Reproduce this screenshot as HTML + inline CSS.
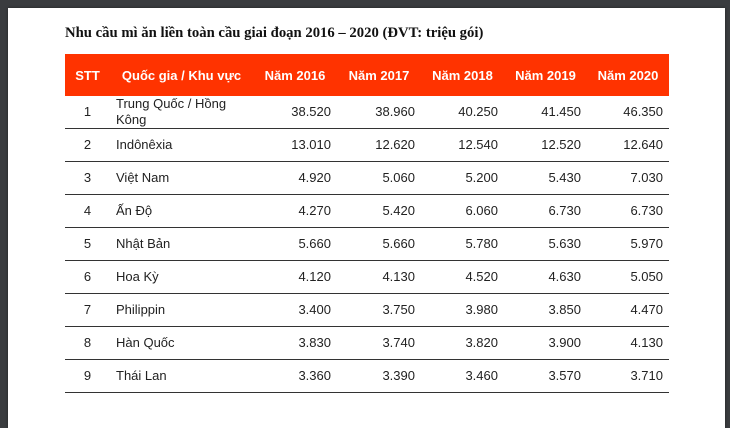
<!DOCTYPE html>
<html><head><meta charset="utf-8"><style>
body{margin:0;width:730px;height:405px;overflow:hidden;background:#3a3c3f;position:relative;font-family:"Liberation Sans",sans-serif}
.page{position:absolute;left:8px;top:8px;width:717px;height:420px;background:#fff;box-shadow:0 0 3px rgba(0,0,0,.4)}
h1{position:absolute;left:65px;top:25px;margin:0;font:bold 14.7px "Liberation Serif",serif;color:#111;white-space:nowrap}
table{position:absolute;left:65px;top:54px;border-collapse:collapse;font-size:13px;color:#222;table-layout:fixed}
th{background:#ff3300;color:#fff;font-weight:bold;height:42px;padding:0 6px;font-size:13px}
td{height:32px;border-bottom:1.5px solid #333;padding:0 6px;line-height:16px}
td.n{text-align:right}
td.c{text-align:center}
</style></head><body>
<div class="page"></div>
<h1>Nhu cầu mì ăn liền toàn cầu giai đoạn 2016 – 2020 (ĐVT: triệu gói)</h1>
<table>
<colgroup><col style="width:45px"><col style="width:143px"><col style="width:84px"><col style="width:84px"><col style="width:83px"><col style="width:83px"><col style="width:82px"></colgroup>
<tr><th>STT</th><th>Quốc gia / Khu vực</th><th>Năm 2016</th><th>Năm 2017</th><th>Năm 2018</th><th>Năm 2019</th><th>Năm 2020</th></tr>
<tr><td class="c">1</td><td>Trung Quốc / Hồng Kông</td><td class="n">38.520</td><td class="n">38.960</td><td class="n">40.250</td><td class="n">41.450</td><td class="n">46.350</td></tr>
<tr><td class="c">2</td><td>Indônêxia</td><td class="n">13.010</td><td class="n">12.620</td><td class="n">12.540</td><td class="n">12.520</td><td class="n">12.640</td></tr>
<tr><td class="c">3</td><td>Việt Nam</td><td class="n">4.920</td><td class="n">5.060</td><td class="n">5.200</td><td class="n">5.430</td><td class="n">7.030</td></tr>
<tr><td class="c">4</td><td>Ấn Độ</td><td class="n">4.270</td><td class="n">5.420</td><td class="n">6.060</td><td class="n">6.730</td><td class="n">6.730</td></tr>
<tr><td class="c">5</td><td>Nhật Bản</td><td class="n">5.660</td><td class="n">5.660</td><td class="n">5.780</td><td class="n">5.630</td><td class="n">5.970</td></tr>
<tr><td class="c">6</td><td>Hoa Kỳ</td><td class="n">4.120</td><td class="n">4.130</td><td class="n">4.520</td><td class="n">4.630</td><td class="n">5.050</td></tr>
<tr><td class="c">7</td><td>Philippin</td><td class="n">3.400</td><td class="n">3.750</td><td class="n">3.980</td><td class="n">3.850</td><td class="n">4.470</td></tr>
<tr><td class="c">8</td><td>Hàn Quốc</td><td class="n">3.830</td><td class="n">3.740</td><td class="n">3.820</td><td class="n">3.900</td><td class="n">4.130</td></tr>
<tr><td class="c">9</td><td>Thái Lan</td><td class="n">3.360</td><td class="n">3.390</td><td class="n">3.460</td><td class="n">3.570</td><td class="n">3.710</td></tr>
</table>
</body></html>
